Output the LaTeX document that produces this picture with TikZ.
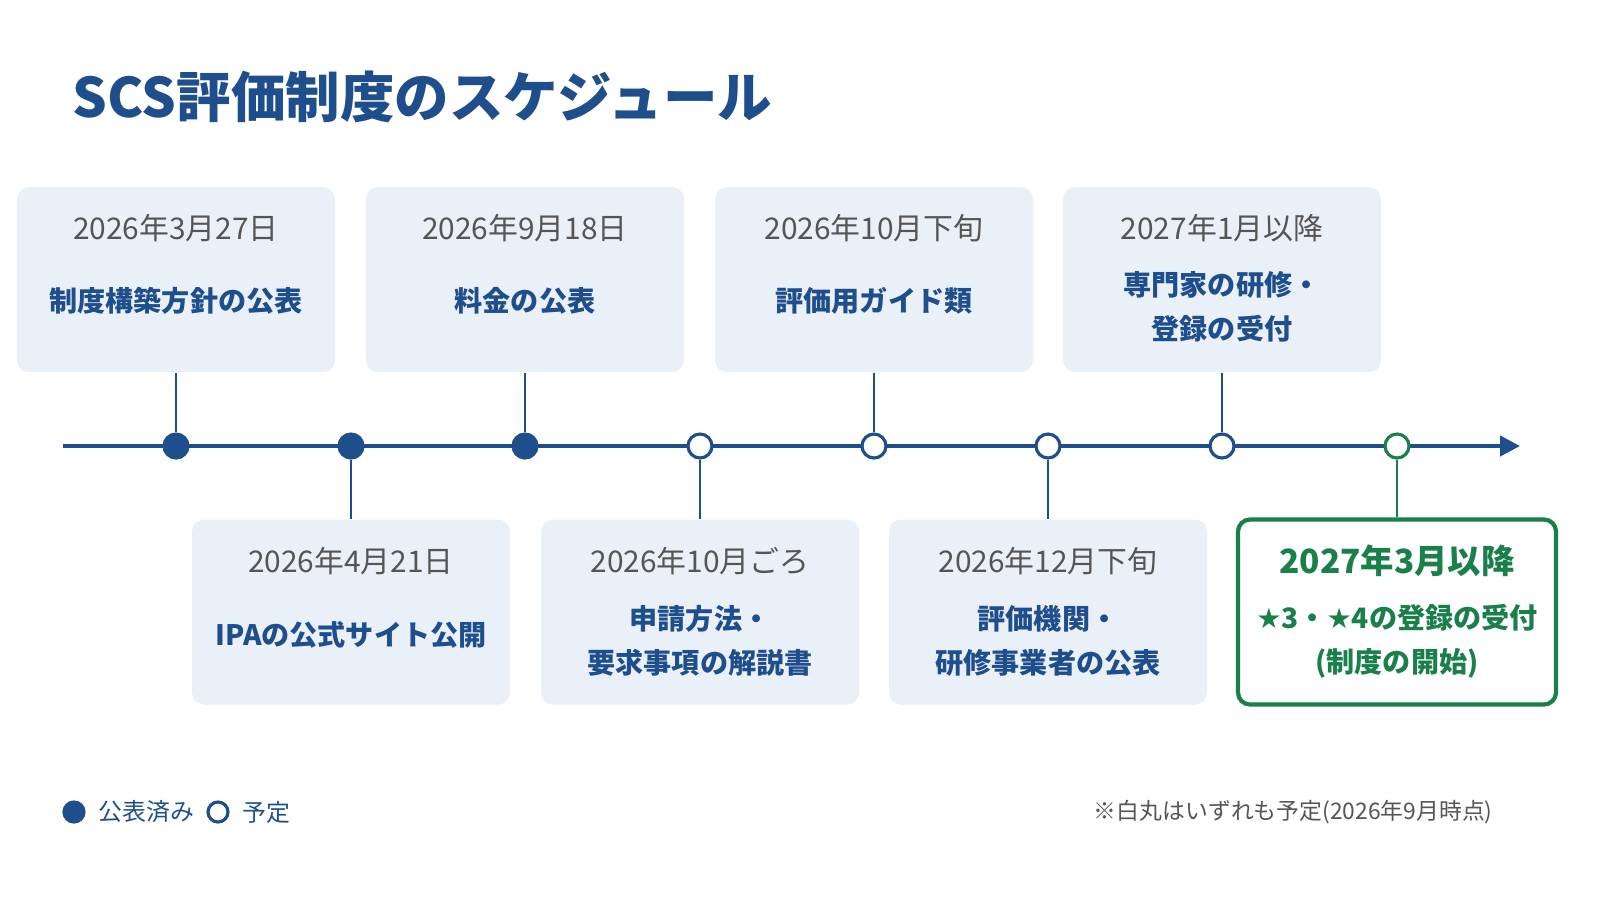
\documentclass[tikz,border=0pt]{standalone}
\usepackage{fontspec}
\setmainfont{Noto Sans CJK JP}
\newfontfamily\symfont{DejaVu Sans}
\usetikzlibrary{arrows.meta}
\definecolor{scsblue}{HTML}{1F4E8C}
\definecolor{scsgreen}{HTML}{1A7F4B}
\definecolor{boxfill}{HTML}{EAF0F8}
\definecolor{dategray}{HTML}{555555}
\tikzset{
  card/.style={rounded corners=0.12cm,fill=boxfill,minimum width=3.18cm,minimum height=1.85cm},
  datetxt/.style={text=dategray,font=\fontsize{8.5}{10}\selectfont},
  labeltxt/.style={text=scsblue,font=\fontsize{8}{12.5}\selectfont\bfseries,align=center},
  done/.style={circle,draw=scsblue,fill=scsblue,line width=0.9pt,minimum size=0.24cm,inner sep=0pt},
  plan/.style={circle,draw=scsblue,fill=white,line width=0.9pt,minimum size=0.24cm,inner sep=0pt},
  stem/.style={draw=scsblue,line width=0.7pt}
}
\begin{document}
\begin{tikzpicture}[y=-1cm]
\clip (0,0) rectangle (16,9);
\useasboundingbox (0,0) rectangle (16,9);
\node[anchor=west,text=scsblue,font=\fontsize{15.5}{18}\selectfont\bfseries] (title) at (0.6,0.97) {SCS評価制度のスケジュール};

% timeline
\coordinate (start) at (0.63,4.46);
\coordinate (stop) at (15.2,4.46);
\draw[scsblue,line width=1.2pt,-{Triangle[length=0.2cm,width=0.2cm]}] (start) -- (stop);

% top cards
\node[card] (c1) at (1.76,2.795) {};
\node[card] (c3) at (5.25,2.795) {};
\node[card] (c5) at (8.74,2.795) {};
\node[card] (c7) at (12.22,2.795) {};
% bottom cards
\node[card] (c2) at (3.51,6.12) {};
\node[card] (c4) at (7.00,6.12) {};
\node[card] (c6) at (10.48,6.12) {};
\node[card,fill=white,draw=scsgreen,line width=1.2pt] (c8) at (13.97,6.12) {};

% dots
\node[done] (d1) at (1.76,4.46) {};
\node[done] (d2) at (3.51,4.46) {};
\node[done] (d3) at (5.25,4.46) {};
\node[plan] (d4) at (7.00,4.46) {};
\node[plan] (d5) at (8.74,4.46) {};
\node[plan] (d6) at (10.48,4.46) {};
\node[plan] (d7) at (12.22,4.46) {};
\node[plan,draw=scsgreen] (d8) at (13.97,4.46) {};

\path[stem] (c1) edge (d1);
\path[stem] (c3) edge (d3);
\path[stem] (c5) edge (d5);
\path[stem] (c7) edge (d7);
\path[stem] (d2) edge (c2);
\path[stem] (d4) edge (c4);
\path[stem] (d6) edge (c6);
\path[draw=scsgreen,line width=0.7pt] (d8) edge (c8);

% texts
\node[datetxt] (t1) at (1.76,2.28) {2026年3月27日};
\node[labeltxt] (l1) at (1.76,3.01) {制度構築方針の公表};
\node[datetxt] (t3) at (5.25,2.28) {2026年9月18日};
\node[labeltxt] (l3) at (5.25,3.01) {料金の公表};
\node[datetxt] (t5) at (8.74,2.28) {2026年10月下旬};
\node[labeltxt] (l5) at (8.74,3.01) {評価用ガイド類};
\node[datetxt] (t7) at (12.22,2.28) {2027年1月以降};
\node[labeltxt] (l7) at (12.22,3.07) {専門家の研修・\\登録の受付};
\node[datetxt] (t2) at (3.51,5.61) {2026年4月21日};
\node[labeltxt] (l2) at (3.51,6.35) {IPAの公式サイト公開};
\node[datetxt] (t4) at (7.00,5.61) {2026年10月ごろ};
\node[labeltxt] (l4) at (7.00,6.41) {申請方法・\\要求事項の解説書};
\node[datetxt] (t6) at (10.48,5.61) {2026年12月下旬};
\node[labeltxt] (l6) at (10.48,6.41) {評価機関・\\研修事業者の公表};
\node[text=scsgreen,font=\fontsize{9.5}{11}\selectfont\bfseries] (t8) at (13.97,5.61) {2027年3月以降};
\node[labeltxt,text=scsgreen] (l8) at (13.97,6.41) {{\symfont ★}3・{\symfont ★}4の登録の受付\\(制度の開始)};

% legend
\node[done,minimum size=0.2cm] (k1) at (0.74,8.12) {};
\node[anchor=west,text=scsblue,font=\fontsize{6.8}{8}\selectfont] (k1t) at (0.86,8.12) {公表済み};
\node[plan,minimum size=0.2cm] (k2) at (2.18,8.12) {};
\node[anchor=west,text=scsblue,font=\fontsize{6.8}{8}\selectfont] (k2t) at (2.3,8.12) {予定};
\node[anchor=east,text=dategray,font=\fontsize{6.5}{8}\selectfont] (note) at (15.05,8.12) {※白丸はいずれも予定(2026年9月時点)};
\end{tikzpicture}
\end{document}
